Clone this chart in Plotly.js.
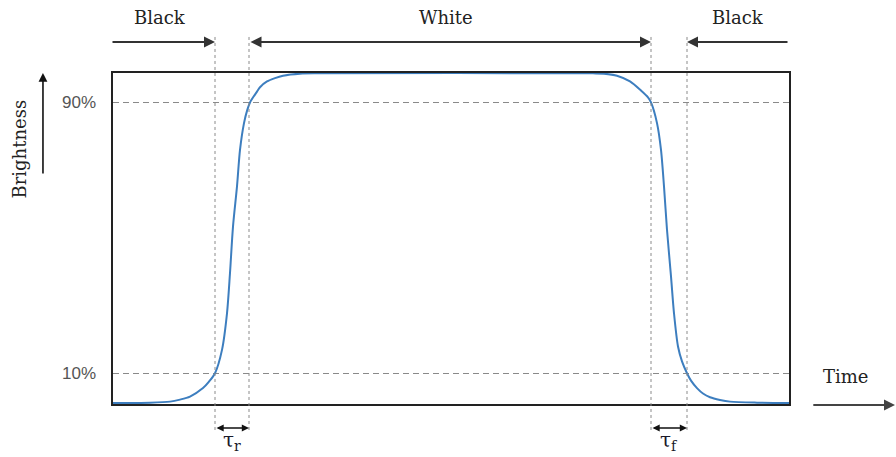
<!DOCTYPE html>
<html>
<head>
<meta charset="utf-8">
<script src="https://cdn.plot.ly/plotly-3.0.1.min.js"></script>
<style>html,body{margin:0;padding:0;background:#fff;}#chart{width:896px;height:457px;}</style>
</head>
<body>
<div id="chart"></div>
<script>
// Time (arbitrary ms units) and brightness (%)
const time = [0, 37, 57, 67, 77, 90, 96, 102, 109, 114, 117, 120, 124, 127, 131, 134, 137, 144, 147, 154, 162, 170, 187, 207,
  480, 491, 504, 517, 528, 535, 538, 544, 548, 551, 554, 558, 561, 565, 569, 574, 578, 584, 590, 597, 607, 617, 644, 676];
const brightness = [1.2, 1.3, 1.6, 2.2, 3.1, 5.6, 7.5, 10, 16.9, 27.7, 39.6, 53.3, 65.2, 76, 83.9, 87.5, 90, 93.2, 94.5, 96.2, 97.2, 97.9, 98.5, 98.6,
  98.6, 98.5, 97.9, 96.2, 93.5, 91.5, 90, 83.9, 76, 65.2, 52.4, 38.6, 27.7, 17.9, 13.5, 10, 7.8, 5.6, 4.0, 2.9, 2.1, 1.6, 1.3, 1.2];
const levelTicks = [10, 90];
const levelLabels = ['10%', '90%'];
const markTimes = [102, 136, 538, 574];   // 10%/90% crossings
const phaseLabels = ['Black', 'White', 'Black'];
const phaseCenters = [47, 333, 625];
const tauLabels = ['τ<sub>r</sub>', 'τ<sub>f</sub>'];
const timeRange = [0, 676];

const serif = 'DejaVu Serif';
const dark = '#222';

const shapes = markTimes.map(t => ({
  type: 'line', xref: 'x', yref: 'paper', x0: t, x1: t, y0: -0.0785, y1: 1.115,
  line: {color: '#8a8a8a', width: 1, dash: 'dot'}, layer: 'above'
}));

const ann = [];
// phase labels
phaseLabels.forEach((lab, i) => ann.push({
  text: lab, x: phaseCenters[i], xref: 'x', y: 1.169, yref: 'paper', showarrow: false,
  font: {family: serif, size: 18, color: dark}, xanchor: 'center', yanchor: 'middle'
}));
const arrowBase = {text: '', xref: 'x', yref: 'paper', axref: 'x', ayref: 'pixel', ay: 0,
  showarrow: true, arrowhead: 2, arrowsize: 1, arrowwidth: 2.2, arrowcolor: '#333', startarrowhead: 2, startarrowsize: 1};
// top phase arrows
ann.push(Object.assign({}, arrowBase, {x: markTimes[0], ax: timeRange[0] - 2, y: 1.0937}));
ann.push(Object.assign({}, arrowBase, {x: markTimes[2], ax: markTimes[1], y: 1.0937, arrowside: 'end+start'}));
ann.push(Object.assign({}, arrowBase, {x: markTimes[3], ax: timeRange[1], y: 1.0937}));
// tau arrows
ann.push(Object.assign({}, arrowBase, {x: markTimes[1], ax: markTimes[0], y: -0.0725, arrowside: 'end+start',
  arrowwidth: 1.6, arrowsize: 0.9, startarrowsize: 0.9, arrowcolor: '#111'}));
ann.push(Object.assign({}, arrowBase, {x: markTimes[3], ax: markTimes[2], y: -0.0725, arrowside: 'end+start',
  arrowwidth: 1.6, arrowsize: 0.9, startarrowsize: 0.9, arrowcolor: '#111'}));
// tau labels
[[markTimes[0], markTimes[1]], [markTimes[2], markTimes[3]]].forEach((p, i) => ann.push({
  text: tauLabels[i], x: (p[0] + p[1]) / 2, xref: 'x', y: -0.112, yref: 'paper', showarrow: false,
  font: {family: serif, size: 20, color: '#1a1a2a'}, xanchor: 'center', yanchor: 'middle'
}));
// Brightness label + arrow
ann.push({text: 'Brightness', textangle: -90, x: -0.138, xref: 'paper', y: 0.771, yref: 'paper', showarrow: false,
  font: {family: serif, size: 18, color: dark}, xanchor: 'center', yanchor: 'middle'});
ann.push({text: '', x: -0.1036, xref: 'paper', y: 1.0, yref: 'paper', axref: 'pixel', ayref: 'pixel', ax: 0, ay: 102,
  showarrow: true, arrowhead: 2, arrowsize: 1.1, arrowwidth: 1.6, arrowcolor: '#111'});
// Time label + arrow
ann.push({text: 'Time', x: 1.083, xref: 'paper', y: 0.082, yref: 'paper', showarrow: false,
  font: {family: serif, size: 18, color: dark}, xanchor: 'center', yanchor: 'middle'});
ann.push({text: '', x: 1.158, xref: 'paper', y: -0.003, yref: 'paper', axref: 'pixel', ayref: 'pixel', ax: -84, ay: 0,
  showarrow: true, arrowhead: 2, arrowsize: 1, arrowwidth: 2.2, arrowcolor: '#444'});

const data = [{
  x: time, y: brightness, type: 'scatter', mode: 'lines', line: {color: '#3d7ebf', width: 2, shape: 'spline', smoothing: 0.8},
  hoverinfo: 'skip'
}];

const layout = {
  width: 896, height: 457,
  margin: {l: 113, r: 107, t: 73, b: 53},
  paper_bgcolor: '#fff', plot_bgcolor: '#fff',
  showlegend: false,
  xaxis: {range: timeRange, showticklabels: false, ticks: '', showgrid: false, zeroline: false,
    showline: true, mirror: true, linecolor: dark, linewidth: 1.6},
  yaxis: {range: [0.9, 98.7], tickvals: levelTicks, ticktext: levelLabels, ticks: '', ticklabelstandoff: 12,
    tickfont: {family: 'Liberation Sans', size: 17, color: '#555'},
    showgrid: true, gridcolor: '#8a8a8a', gridwidth: 1, griddash: '6px,4px', zeroline: false,
    showline: true, mirror: true, linecolor: dark, linewidth: 1.6},
  shapes: shapes,
  annotations: ann
};

Plotly.newPlot('chart', data, layout, {displayModeBar: false, staticPlot: true});
</script>
</body>
</html>
